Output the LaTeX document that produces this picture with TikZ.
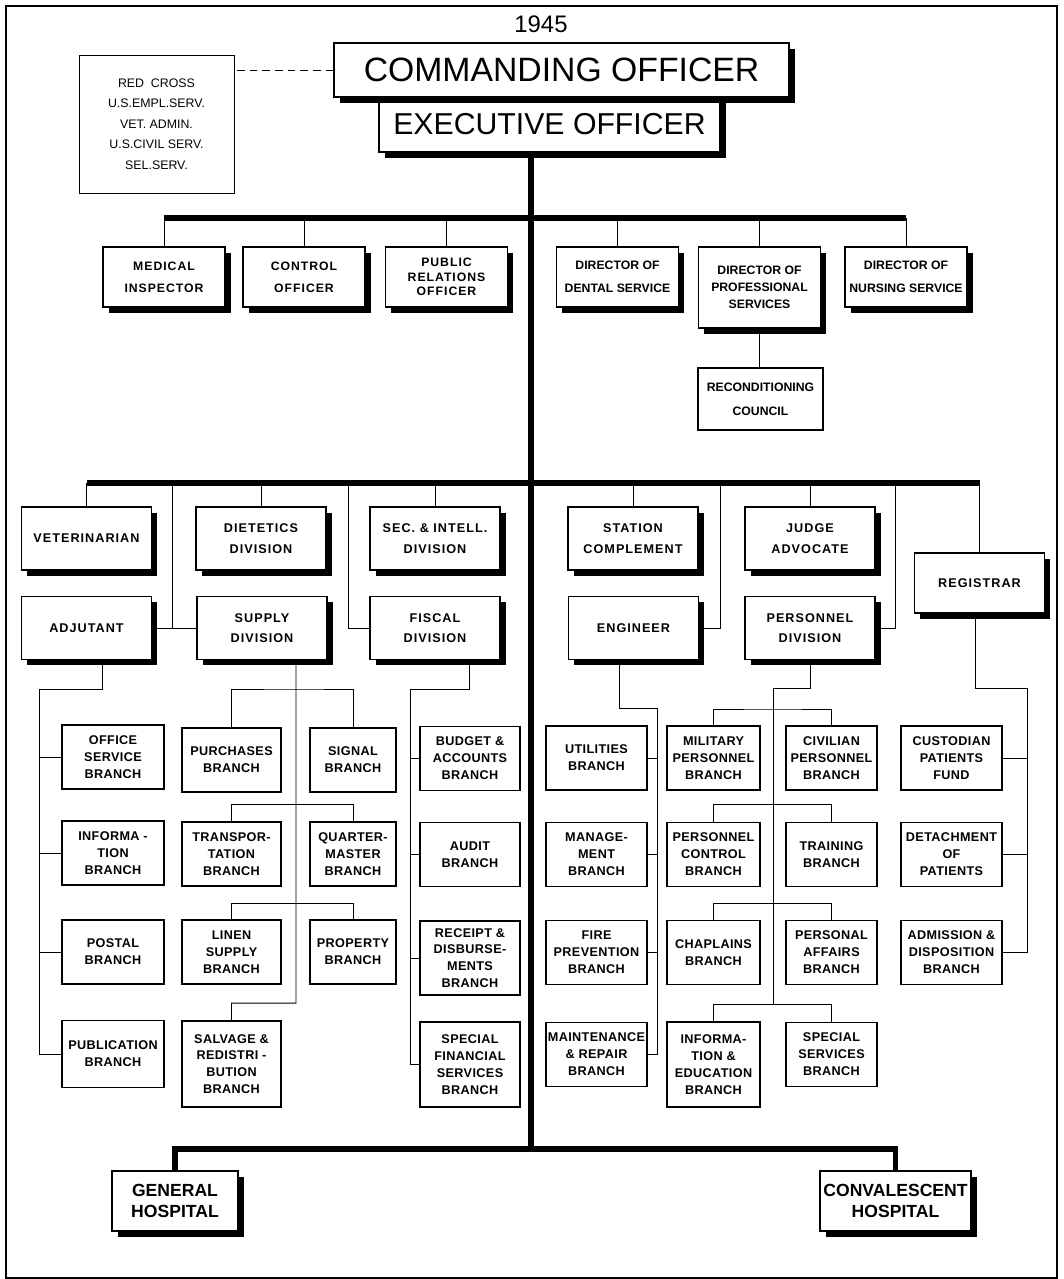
\documentclass[tikz,border=0pt]{standalone}
\usepackage{fontspec}
\setmainfont{Liberation Sans}
\newfontfamily\widefont{Liberation Sans}[LetterSpace=8]
\newfontfamily\brfont{Liberation Sans}[LetterSpace=3]
\usetikzlibrary{shadows}

\begin{document}
\begin{tikzpicture}[x=0.25mm, y=-0.25mm, line width=0.7pt,
	box/.style={draw, line width=0.9pt, fill=white, align=center, inner sep=1pt},
	shd/.style={box, drop shadow={shadow xshift=1.4mm, shadow yshift=-1.4mm, fill=black, opacity=1}},
	head/.style={shd, minimum width=30.5mm, minimum height=15mm, font=\widefont\bfseries\fontsize{8.7}{15.5}\selectfont},
	div/.style={shd, minimum width=32.5mm, minimum height=15.75mm, font=\widefont\bfseries\fontsize{9}{14.5}\selectfont},
	br/.style={box, minimum height=16mm, font=\brfont\bfseries\fontsize{9}{12}\selectfont},
	hosp/.style={shd, minimum height=15mm, font=\bfseries\fontsize{12.5}{14.5}\selectfont},
	heavy/.style={line width=3.8pt}]
		\useasboundingbox (0,0) rectangle (1064,1279);
		\draw[line width=0.8pt] (6,6) rectangle (1057,1278);

		\node[font=\fontsize{17}{17}\selectfont] (yr) at (541,24) {1945};
		\node[box, line width=0.7pt, minimum width=38.75mm, minimum height=34.5mm, font=\fontsize{8.8}{14.5}\selectfont] (redx) at (156.5,124) {RED\ \ CROSS\\U.S.EMPL.SERV.\\VET. ADMIN.\\U.S.CIVIL SERV.\\SEL.SERV.};
		\node[shd, minimum width=85.25mm, minimum height=13.75mm, font=\fontsize{21.5}{22}\selectfont] (eo) at (549.5,124.5) {EXECUTIVE OFFICER};
		\node[shd, minimum width=113.75mm, minimum height=13.5mm, font=\fontsize{24}{24}\selectfont] (co) at (561.5,70) {COMMANDING OFFICER};

		\node[head] (med) at (164,277) {MEDICAL\\INSPECTOR};
		\node[head] (ctl) at (304,277) {CONTROL\\OFFICER};
		\node[head, font=\widefont\bfseries\fontsize{8.7}{10.5}\selectfont] (pr) at (446.5,277) {PUBLIC\\RELATIONS\\OFFICER};
		\node[head, font=\bfseries\fontsize{8.7}{16}\selectfont] (dent) at (617.5,277) {DIRECTOR OF\\DENTAL SERVICE};
		\node[head, minimum height=20.25mm, font=\bfseries\fontsize{8.7}{12}\selectfont] (prof) at (759.5,287.5) {DIRECTOR OF\\PROFESSIONAL\\SERVICES};
		\node[head, font=\bfseries\fontsize{8.7}{16}\selectfont] (nurs) at (906,277) {DIRECTOR OF\\NURSING SERVICE};
		\node[box, minimum width=31.25mm, minimum height=15.5mm, font=\bfseries\fontsize{8.7}{17}\selectfont] (recon) at (760.5,399) {RECONDITIONING\\COUNCIL};

		\node[div] (vet) at (86.5,538.5) {VETERINARIAN};
		\node[div] (diet) at (261,538.5) {DIETETICS\\DIVISION};
		\node[div] (sec) at (435,538.5) {SEC. \& INTELL.\\DIVISION};
		\node[div] (stat) at (633,538.5) {STATION\\COMPLEMENT};
		\node[div] (jag) at (810,538.5) {JUDGE\\ADVOCATE};
		\node[div, minimum height=15mm] (reg) at (979.5,583) {REGISTRAR};
		\node[div] (adj) at (86.5,628) {ADJUTANT};
		\node[div] (sup) at (262,628) {SUPPLY\\DIVISION};
		\node[div] (fis) at (435,628) {FISCAL\\DIVISION};
		\node[div] (eng) at (633.5,628) {ENGINEER};
		\node[div] (pers) at (810,628) {PERSONNEL\\DIVISION};

		\node[br, minimum width=25.5mm] (off) at (113,757) {OFFICE\\SERVICE\\BRANCH};
		\node[br, minimum width=25.5mm] (inf) at (113,853) {INFORMA -\\TION\\BRANCH};
		\node[br, minimum width=25.5mm] (pos) at (113,952) {POSTAL\\BRANCH};
		\node[br, minimum width=25.5mm, minimum height=16.75mm] (pub) at (113,1054) {PUBLICATION\\BRANCH};
		\node[br, minimum width=24.75mm] (pur) at (231.5,760) {PURCHASES\\BRANCH};
		\node[br, minimum width=24.75mm] (tra) at (231.5,854) {TRANSPOR-\\TATION\\BRANCH};
		\node[br, minimum width=24.75mm] (lin) at (231.5,952) {LINEN\\SUPPLY\\BRANCH};
		\node[br, minimum width=24.75mm, minimum height=21.5mm] (sal) at (231.5,1064) {SALVAGE \&\\REDISTRI -\\BUTION\\BRANCH};
		\node[br, minimum width=21.5mm] (sig) at (353,760) {SIGNAL\\BRANCH};
		\node[br, minimum width=21.5mm] (qm) at (353,854) {QUARTER-\\MASTER\\BRANCH};
		\node[br, minimum width=21.5mm] (prop) at (353,952) {PROPERTY\\BRANCH};
		\node[br, minimum width=25mm] (bud) at (470,758.5) {BUDGET \&\\ACCOUNTS\\BRANCH};
		\node[br, minimum width=25mm] (aud) at (470,854.5) {AUDIT\\BRANCH};
		\node[br, minimum width=25mm, minimum height=18.5mm] (rec) at (470,958) {RECEIPT \&\\DISBURSE-\\MENTS\\BRANCH};
		\node[br, minimum width=25mm, minimum height=21.25mm] (spf) at (470,1064.5) {SPECIAL\\FINANCIAL\\SERVICES\\BRANCH};
		\node[br, minimum width=25.25mm] (uti) at (596.5,758) {UTILITIES\\BRANCH};
		\node[br, minimum width=25.25mm] (mgt) at (596.5,854.5) {MANAGE-\\MENT\\BRANCH};
		\node[br, minimum width=25.25mm] (fire) at (596.5,952.5) {FIRE\\PREVENTION\\BRANCH};
		\node[br, minimum width=25.25mm] (mnt) at (596.5,1054.5) {MAINTENANCE\\\& REPAIR\\BRANCH};
		\node[br, minimum width=23.25mm] (mil) at (713.5,758) {MILITARY\\PERSONNEL\\BRANCH};
		\node[br, minimum width=23.25mm] (pc) at (713.5,854.5) {PERSONNEL\\CONTROL\\BRANCH};
		\node[br, minimum width=23.25mm] (chap) at (713.5,952.5) {CHAPLAINS\\BRANCH};
		\node[br, minimum width=23.25mm, minimum height=21.25mm] (ied) at (713.5,1064.5) {INFORMA-\\TION \&\\EDUCATION\\BRANCH};
		\node[br, minimum width=22.75mm] (civ) at (831.5,758) {CIVILIAN\\PERSONNEL\\BRANCH};
		\node[br, minimum width=22.75mm] (trn) at (831.5,854.5) {TRAINING\\BRANCH};
		\node[br, minimum width=22.75mm] (pa) at (831.5,952.5) {PERSONAL\\AFFAIRS\\BRANCH};
		\node[br, minimum width=22.75mm] (ssv) at (831.5,1054.5) {SPECIAL\\SERVICES\\BRANCH};
		\node[br, minimum width=25.25mm] (cus) at (951.5,758) {CUSTODIAN\\PATIENTS\\FUND};
		\node[br, minimum width=25.25mm] (det) at (951.5,854.5) {DETACHMENT\\OF\\PATIENTS};
		\node[br, minimum width=25.25mm] (adm) at (951.5,952.5) {ADMISSION \&\\DISPOSITION\\BRANCH};

		\node[hosp, minimum width=31.5mm] (gen) at (175,1201) {GENERAL\\HOSPITAL};
		\node[hosp, minimum width=37.75mm] (conv) at (895.5,1201) {CONVALESCENT\\HOSPITAL};

		\coordinate (b1) at (531,218);
		\coordinate (b2) at (531,483);
		\coordinate (b3) at (531,1149);
		\coordinate (j1) at (172,628);
		\coordinate (j2) at (348,628);
		\coordinate (j3) at (720,628);
		\coordinate (j4) at (895,628);
		\coordinate (adjv) at (39,689);
		\coordinate (s1) at (296,689);
		\coordinate (s2) at (296,804);
		\coordinate (s3) at (296,903);
		\coordinate (supv) at (296,1003);
		\coordinate (fisv) at (410,689);
		\coordinate (engv) at (657,708);
		\coordinate (p0) at (773,688);
		\coordinate (p1) at (773,709);
		\coordinate (p2) at (773,804);
		\coordinate (p3) at (773,903);
		\coordinate (p4) at (773,1004);
		\coordinate (regv) at (1027,688);

		\draw[dash pattern=on 5.5pt off 3.5pt] (co.west) -- (co.west -| redx.east);
		\draw[heavy] (eo.south -| b1) -- (b3);
		\draw[heavy] (med.north |- b1) -- (nurs.north |- b1);
		\draw[heavy] (vet.north |- b2) -- (reg.north |- b2);
		\draw[heavy] (gen.north) -- (gen.north |- b3) -- (conv.north |- b3) -- (conv.north);

		\draw (med.north) -- (med.north |- b1);
		\draw (ctl.north) -- (ctl.north |- b1);
		\draw (pr.north) -- (pr.north |- b1);
		\draw (dent.north) -- (dent.north |- b1);
		\draw (prof.north) -- (prof.north |- b1);
		\draw (nurs.north) -- (nurs.north |- b1);
		\draw (prof.south) -- (prof.south |- recon.north);

		\draw (vet.north) -- (vet.north |- b2);
		\draw (diet.north) -- (diet.north |- b2);
		\draw (sec.north) -- (sec.north |- b2);
		\draw (stat.north) -- (stat.north |- b2);
		\draw (jag.north) -- (jag.north |- b2);
		\draw (reg.north) -- (reg.north |- b2);
		\draw (j1 |- b2) -- (j1);
		\draw (adj.east) -- (sup.west);
		\draw (j2 |- b2) |- (fis.west);
		\draw (j3 |- b2) |- (eng.east);
		\draw (j4 |- b2) |- (pers.east);

		\draw ([xshift=3.9mm]adj.south) |- (adjv) |- (pub.west);
		\draw (adjv) |- (off.west);
		\draw (adjv) |- (inf.west);
		\draw (adjv) |- (pos.west);

		\draw ([xshift=8.5mm]sup.south) -- (supv) -| (sal.north);
		\draw (pur.north) |- (s1) -| (sig.north);
		\draw (tra.north) |- (s2) -| (qm.north);
		\draw (lin.north) |- (s3) -| (prop.north);

		\draw ([xshift=8.5mm]fis.south) |- (fisv) |- (spf.west);
		\draw (fisv) |- (bud.west);
		\draw (fisv) |- (aud.west);
		\draw (fisv) |- (rec.west);

		\draw ([xshift=-3.6mm]eng.south) |- (engv) |- (mnt.east);
		\draw (engv) |- (uti.east);
		\draw (engv) |- (mgt.east);
		\draw (engv) |- (fire.east);

		\draw (pers.south) |- (p0) -- (p4);
		\draw (mil.north) |- (p1) -| (civ.north);
		\draw (pc.north) |- (p2) -| (trn.north);
		\draw (chap.north) |- (p3) -| (pa.north);
		\draw (ied.north) |- (p4) -| (ssv.north);

		\draw ([xshift=-1.1mm]reg.south) |- (regv) |- (adm.east);
		\draw (regv) |- (cus.east);
		\draw (regv) |- (det.east);
\end{tikzpicture}
\end{document}
